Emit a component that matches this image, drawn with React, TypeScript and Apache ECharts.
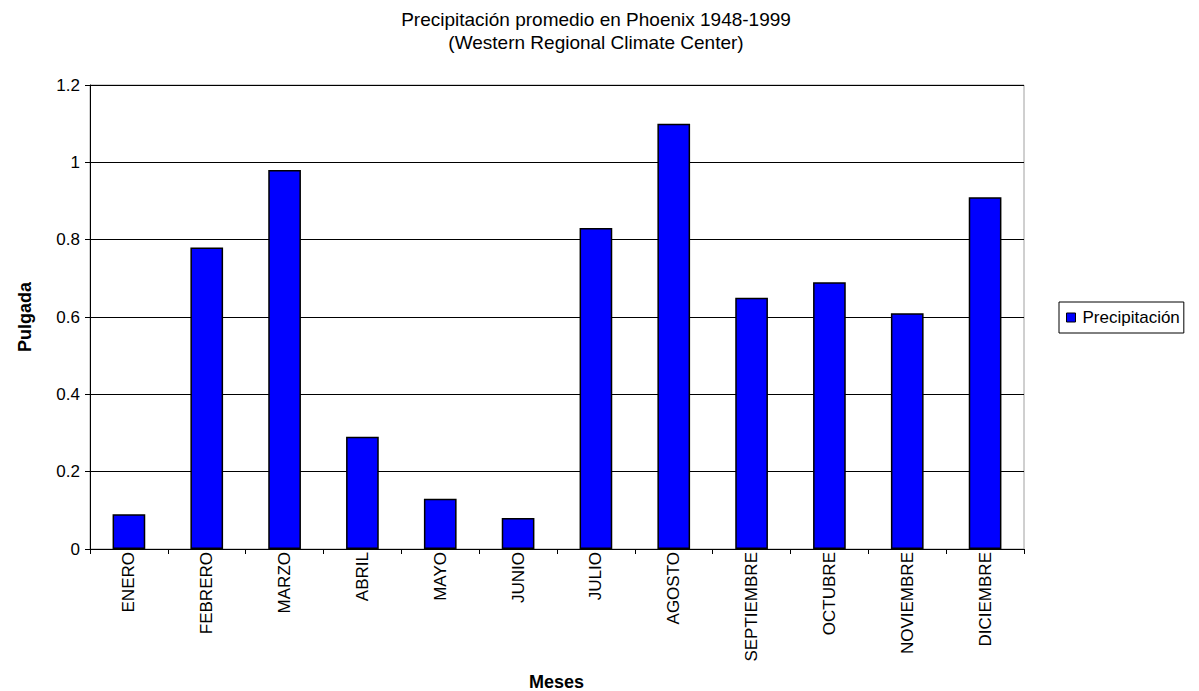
import React, { useEffect, useRef } from "react";
import * as echarts from "echarts";

const categories = ["ENERO", "FEBRERO", "MARZO", "ABRIL", "MAYO", "JUNIO", "JULIO", "AGOSTO", "SEPTIEMBRE", "OCTUBRE", "NOVIEMBRE", "DICIEMBRE"];
const precipitacion = [0.09, 0.78, 0.98, 0.29, 0.13, 0.08, 0.83, 1.1, 0.65, 0.69, 0.61, 0.91];

const FONT = "'Liberation Sans', Arial, sans-serif";

export default function App() {
  const ref = useRef<HTMLDivElement>(null);
  useEffect(() => {
    const chart = echarts.init(ref.current!, undefined, { renderer: "svg" });
    chart.setOption({
      animation: false,
      backgroundColor: "#ffffff",
      title: {
        text: "Precipitación promedio en Phoenix 1948-1999\n(Western Regional Climate Center)",
        left: 591,
        top: 3,
        textAlign: "center",
        textStyle: { fontFamily: FONT, fontSize: 19, fontWeight: "normal", color: "#000", lineHeight: 23 },
      },
      legend: {
        data: ["Precipitación"],
        orient: "vertical",
        left: 1059,
        top: 302,
        itemWidth: 9,
        itemHeight: 9,
        itemGap: 4,
        padding: [7, 4, 7, 7],
        borderColor: "#000",
        borderWidth: 1,
        borderRadius: 0,
        icon: "rect",
        itemStyle: { borderColor: "#000", borderWidth: 1 },
        textStyle: { fontFamily: FONT, fontSize: 17, color: "#000", padding: [0, 0, 0, 2] },
      },
      graphic: [
        {
          type: "text",
          left: 529,
          top: 673,
          style: {
            text: "Meses",
            fontFamily: FONT,
            fontSize: 18,
            fontWeight: "bold",
            fill: "#000",
          },
        },
      ],
      grid: {
        left: 90,
        top: 85,
        right: 175,
        bottom: 142,
        show: true,
        borderColor: "#a0a0a0",
        borderWidth: 1,
        outerBoundsMode: "none",
        containLabel: false,
      },
      xAxis: {
        type: "category",
        data: categories,
        axisLine: { lineStyle: { color: "#000", width: 1 } },
        axisTick: { show: true, length: 5, lineStyle: { color: "#000" } },
        axisLabel: { rotate: 90, interval: 0, fontFamily: FONT, fontSize: 17, color: "#000", margin: 3 },
      },
      yAxis: {
        type: "value",
        min: 0,
        max: 1.2,
        interval: 0.2,
        name: "Pulgada",
        nameLocation: "middle",
        nameGap: 56,
        nameRotate: 90,
        nameTextStyle: { fontFamily: FONT, fontSize: 18, fontWeight: "bold", color: "#000" },
        axisLine: { show: true, lineStyle: { color: "#000", width: 1 } },
        axisTick: { show: true, length: 5, lineStyle: { color: "#000" } },
        axisLabel: {
          fontFamily: FONT,
          fontSize: 17,
          color: "#000",
          margin: 10,
          formatter: (v: number) => String(Math.round(v * 10) / 10),
        },
        splitLine: { show: true, lineStyle: { color: "#000", width: 1 } },
      },
      series: [
        {
          name: "Precipitación",
          type: "bar",
          data: precipitacion,
          barWidth: "42%",
          itemStyle: { color: "#0000ff", borderColor: "#000", borderWidth: 1.5 },
        },
      ],
    });
    return () => chart.dispose();
  }, []);
  return <div ref={ref} style={{ width: 1199, height: 691, position: "absolute", left: 0, top: 0 }} />;
}
